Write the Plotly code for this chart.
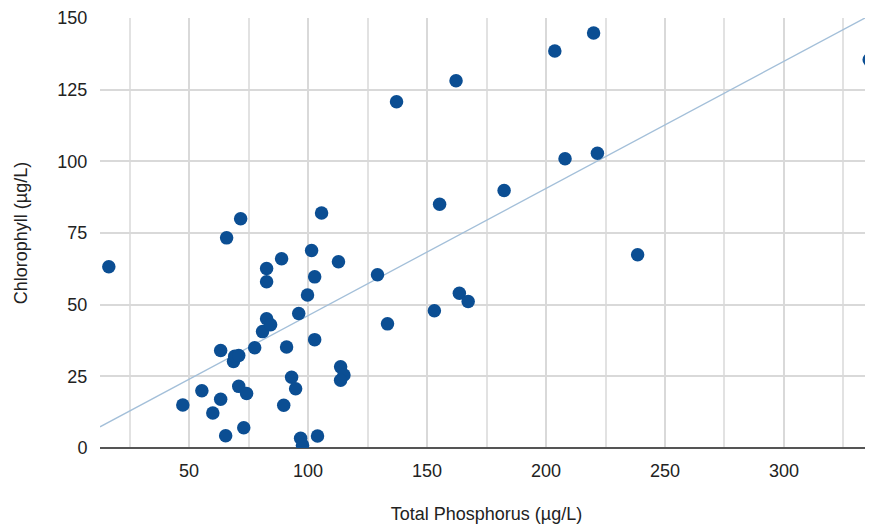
import plotly.graph_objects as go

phosphorus = [16.3, 47.4, 55.4, 60.0, 63.3, 63.3, 65.4, 65.8, 68.7, 69.2, 70.9, 70.9, 71.7, 73.0,
              74.2, 77.6, 80.9, 82.6, 82.6, 82.6, 84.3, 88.9, 89.8, 91.0, 93.1, 94.8, 96.1, 96.9,
              97.7, 99.8, 101.5, 102.8, 102.8, 104.0, 105.7, 112.8, 113.7, 115.1, 113.7, 129.2,
              133.4, 137.2, 153.1, 155.3, 162.2, 163.6, 167.3, 182.4, 203.7, 208.0, 220.0, 221.6,
              238.5, 335.8]
chlorophyll = [63.2, 15.0, 20.0, 12.2, 17.0, 34.0, 4.3, 73.3, 30.2, 32.0, 32.3, 21.5, 80.0, 7.1,
               19.0, 35.0, 40.6, 62.6, 58.0, 45.1, 43.0, 66.0, 14.9, 35.2, 24.7, 20.7, 46.9, 3.4,
               1.0, 53.4, 68.9, 59.7, 37.8, 4.2, 82.0, 65.0, 28.3, 25.5, 23.6, 60.4, 43.3, 120.8,
               47.9, 85.0, 128.1, 54.0, 51.1, 89.8, 138.5, 100.9, 144.8, 102.8, 67.4, 135.4]

trend_slope = 0.4437
trend_intercept = 1.8

x_range = [12.6, 337.4]
y_range = [0, 150]

trend_x = list(x_range)
trend_y = [trend_slope * v + trend_intercept for v in trend_x]

fig = go.Figure()
fig.add_trace(go.Scatter(x=trend_x, y=trend_y, mode="lines",
                         line=dict(color="#a3bfd9", width=1.3), hoverinfo="skip",
                         showlegend=False))
fig.add_trace(go.Scatter(x=phosphorus, y=chlorophyll, mode="markers",
                         marker=dict(size=13.5, color="#0b4e93", line=dict(width=0)),
                         showlegend=False))

font_family = "Liberation Sans, Arial, sans-serif"
txt = "#222222"
fig.update_layout(
    width=865, height=516,
    margin=dict(l=92, r=0, t=8, b=76),
    paper_bgcolor="white", plot_bgcolor="white",
    font=dict(family=font_family, size=18, color=txt),
    xaxis=dict(range=x_range, tick0=0, dtick=50, showgrid=True, gridcolor="#d9d9d9",
               gridwidth=1.5, zeroline=False, ticks="outside", ticklen=6,
               tickcolor="rgba(0,0,0,0)", showline=False, ticklabeloverflow="allow",
               minor=dict(dtick=25, tick0=0, showgrid=True, gridcolor="#e2e2e2", gridwidth=1.5),
               title=dict(text="Total Phosphorus (µg/L)", standoff=27,
                          font=dict(size=18, color=txt)),
               tickfont=dict(size=18, color=txt)),
    yaxis=dict(range=y_range, tick0=0, dtick=25, showgrid=True, gridcolor="#d9d9d9",
               gridwidth=1.5, zeroline=True, zerolinecolor="#555555", zerolinewidth=1.6,
               ticks="outside", ticklen=8, tickcolor="rgba(0,0,0,0)", showline=False,
               ticklabeloverflow="allow",
               title=dict(text="Chlorophyll (µg/L)", standoff=25,
                          font=dict(size=18, color=txt)),
               tickfont=dict(size=18, color=txt)),
)

fig.write_html("out.html")
